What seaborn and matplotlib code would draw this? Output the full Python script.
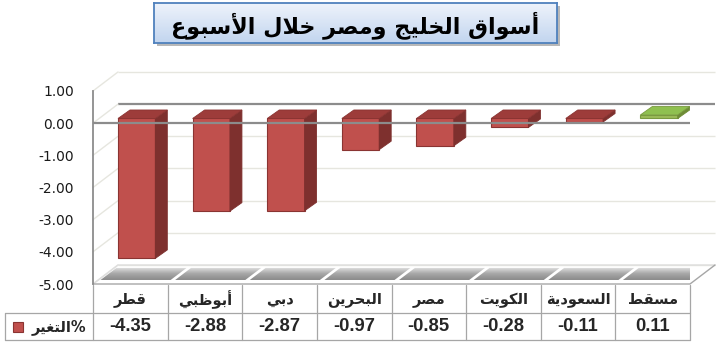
import numpy as np
import pandas as pd
import matplotlib
matplotlib.use("Agg")
import matplotlib.pyplot as plt
import seaborn as sns
from matplotlib import font_manager
from matplotlib.patches import Polygon, Rectangle
from matplotlib.colors import LinearSegmentedColormap

# ---------------- data ----------------
title = "أسواق الخليج ومصر خلال الأسبوع"
markets = ["قطر", "أبوظبي", "دبي", "البحرين", "مصر", "الكويت", "السعودية", "مسقط"]
changes = [-4.35, -2.88, -2.87, -0.97, -0.85, -0.28, -0.11, 0.11]
row_label = "التغير"
ytick_values = [1, 0, -1, -2, -3, -4, -5]
ytick_labels = ["1.00", "0.00", "-1.00", "-2.00", "-3.00", "-4.00", "-5.00"]

# ------------- minimal Arabic shaping (presentation forms + RTL) -------------
FORMS = {
    'ا': ('\ufe8d', '\ufe8e', None, None),
    'أ': ('\ufe83', '\ufe84', None, None),
    'ب': ('\ufe8f', '\ufe90', '\ufe91', '\ufe92'),
    'ة': ('\ufe93', '\ufe94', None, None),
    'ت': ('\ufe95', '\ufe96', '\ufe97', '\ufe98'),
    'ج': ('\ufe9d', '\ufe9e', '\ufe9f', '\ufea0'),
    'ح': ('\ufea1', '\ufea2', '\ufea3', '\ufea4'),
    'خ': ('\ufea5', '\ufea6', '\ufea7', '\ufea8'),
    'د': ('\ufea9', '\ufeaa', None, None),
    'ر': ('\ufead', '\ufeae', None, None),
    'س': ('\ufeb1', '\ufeb2', '\ufeb3', '\ufeb4'),
    'ص': ('\ufeb9', '\ufeba', '\ufebb', '\ufebc'),
    'ط': ('\ufec1', '\ufec2', '\ufec3', '\ufec4'),
    'ظ': ('\ufec5', '\ufec6', '\ufec7', '\ufec8'),
    'ع': ('\ufec9', '\ufeca', '\ufecb', '\ufecc'),
    'غ': ('\ufecd', '\ufece', '\ufecf', '\ufed0'),
    'ق': ('\ufed5', '\ufed6', '\ufed7', '\ufed8'),
    'ك': ('\ufed9', '\ufeda', '\ufedb', '\ufedc'),
    'ل': ('\ufedd', '\ufede', '\ufedf', '\ufee0'),
    'م': ('\ufee1', '\ufee2', '\ufee3', '\ufee4'),
    'ن': ('\ufee5', '\ufee6', '\ufee7', '\ufee8'),
    'و': ('\ufeed', '\ufeee', None, None),
    'ي': ('\ufef1', '\ufef2', '\ufef3', '\ufef4'),
    'لا': ('\ufefb', '\ufefc', None, None),
    'لأ': ('\ufef7', '\ufef8', None, None),
}


def shape(s):
    toks, i = [], 0
    while i < len(s):
        if s[i] == 'ل' and i + 1 < len(s) and s[i + 1] in 'اأ':
            toks.append(s[i:i + 2]); i += 2
        else:
            toks.append(s[i]); i += 1
    out = []
    for k, t in enumerate(toks):
        if t not in FORMS:
            out.append(t); continue
        f = FORMS[t]
        prev = toks[k - 1] if k > 0 else None
        nxt = toks[k + 1] if k + 1 < len(toks) else None
        jp = prev in FORMS and FORMS[prev][2] is not None
        jn = nxt in FORMS and f[2] is not None
        if jp and jn:
            g = f[3]
        elif jp:
            g = f[1]
        elif jn:
            g = f[2]
        else:
            g = f[0]
        out.append(g)
    return ''.join(reversed(out))


# ---------------- figure ----------------
sns.set_theme(style="white")
plt.rcParams['font.family'] = ['DejaVu Sans']
installed = {f.name for f in font_manager.fontManager.ttflist}
NUM_FONT = "Liberation Sans Narrow" if "Liberation Sans Narrow" in installed else "Liberation Sans"
NUM_SIZE = 15 if NUM_FONT == "Liberation Sans Narrow" else 13.2

W, H = 721, 348
fig = plt.figure(figsize=(W / 100, H / 100), dpi=100)
fig.patch.set_facecolor("white")

X0, CW, Y0, VU = 93.0, 74.625, 91.0, 32.17
ax = fig.add_axes([X0 / W, (H - 284) / H, 8 * CW / W, 6 * VU / H])


def X(px):
    return -0.5 + (px - X0) / CW


def Y(py):
    return 1 - (py - Y0) / VU


DX, DY = 25 / CW, 19 / VU           # back-wall depth offset
BDX, BDY = 12 / CW, 8.5 / VU         # bar depth offset
Z0 = 0.145                            # bar base level
SHIFT = 0.085

RED = dict(front="#c0504d", side="#7e302e", top="#9d3c3a", edge="#8a3432")
GRN = dict(front="#9bbb59", side="#6e8c36", top="#8fc050", edge="#7a9a40")

df = pd.DataFrame({"market": markets, "change": changes})
pal = {m: (GRN if v > 0 else RED)["front"] for m, v in zip(markets, changes)}
sns.barplot(data=df, x="market", y="change", hue="market", palette=pal,
            width=0.5, legend=False, ax=ax, saturation=1, zorder=3,
            linewidth=0.8, edgecolor=RED["edge"])

val_of = dict(zip(range(len(changes)), changes))
for p in list(ax.patches):
    w = p.get_width()
    idx = int(round(p.get_x() + w / 2))
    v = val_of[idx]
    c = GRN if v > 0 else RED
    p.set_x(p.get_x() + SHIFT)
    p.set_y(p.get_y() + Z0)
    p.set_edgecolor(c["edge"])
    xl, xr = p.get_x(), p.get_x() + w
    y1, y2 = p.get_y(), p.get_y() + p.get_height()
    ylo, yhi = min(y1, y2), max(y1, y2)
    ax.add_patch(Polygon([(xr, ylo), (xr + BDX, ylo + BDY), (xr + BDX, yhi + BDY), (xr, yhi)],
                         closed=True, facecolor=c["side"], edgecolor=c["side"], lw=0.6, zorder=3))
    ax.add_patch(Polygon([(xl, yhi), (xr, yhi), (xr + BDX, yhi + BDY), (xl + BDX, yhi + BDY)],
                         closed=True, facecolor=c["top"], edgecolor=c["edge"], lw=0.6, zorder=3))

# walls / gridlines
n = len(markets)
for v in ytick_values:
    col, lw = ("#8c8c8c", 1.6) if v == 0 else ("#e6e6df", 1.0)
    ax.plot([-0.5 + DX, n - 0.5 + DX], [v + DY, v + DY], color=col, lw=lw, zorder=1,
            clip_on=False, solid_capstyle="butt")
    ax.plot([-0.5, -0.5 + DX], [v, v + DY], color="#e6e6df", lw=1.0, zorder=1, clip_on=False)
# front zero line
ax.plot([-0.5, n - 0.5], [0, 0], color="#8c8c8c", lw=1.6, zorder=4, clip_on=False,
        solid_capstyle="butt")

# floor
ax.plot([-0.5, n - 0.5, n - 0.5 + DX], [-5, -5, -5 + DY], color="#a6a6a6", lw=1.0,
        zorder=2, clip_on=False)
ax.plot([-0.5, -0.5 + DX, n - 0.5 + DX], [-5, -5 + DY, -5 + DY], color="#dedede", lw=1.0,
        zorder=1.5, clip_on=False)
grad = np.linspace(0, 1, 64).reshape(-1, 1)
gcmap = LinearSegmentedColormap.from_list("g", ["#8a8a8a", "#a8a8a8", "#e4e4e4"])
vb, vt = -4.875, -4.50
ob, ot = DX * (5 + vb) / DY, DX * (5 + vt) / DY
for i in range(n):
    xl, xr = i - 0.5 + 0.03, i + 0.5 - 0.03
    poly = Polygon([(xl + ob, vb), (xr + ob, vb), (xr + ot, vt), (xl + ot, vt)], closed=True,
                   facecolor="none", edgecolor="none", transform=ax.transData)
    ax.add_patch(poly)
    im = ax.imshow(grad, cmap=gcmap, aspect="auto", origin="lower",
                   extent=[xl, xr + ot + 0.01, vb, vt], zorder=1.6)
    im.set_clip_path(poly)

ax.set_xlim(-0.5, n - 0.5)
ax.set_ylim(-5, 1)
ax.patch.set_visible(False)
ax.set_xticks([])
ax.set_xlabel("")
ax.set_ylabel("")
ax.set_yticks(ytick_values)
ax.set_yticklabels(ytick_labels)
ax.tick_params(axis="y", length=0, pad=13.5, labelsize=10, labelcolor="#1a1a1a")
for s in ["top", "right", "bottom"]:
    ax.spines[s].set_visible(False)
ax.spines["left"].set_color("#8c8c8c")
ax.spines["left"].set_linewidth(1.3)

# ---------------- data table ----------------
tcol = "#a6a6a6"
yh_top, y_mid, y_bot = Y(285), Y(313), Y(340)
for k in range(n + 1):
    ax.plot([k - 0.5, k - 0.5], [yh_top, y_bot], color=tcol, lw=0.9, clip_on=False, zorder=2)
ax.plot([X(5), n - 0.5], [y_mid, y_mid], color=tcol, lw=0.9, clip_on=False, zorder=2)
ax.plot([X(5), n - 0.5], [y_bot, y_bot], color=tcol, lw=0.9, clip_on=False, zorder=2)
ax.plot([X(5), X(5)], [y_mid, y_bot], color=tcol, lw=0.9, clip_on=False, zorder=2)

for i, (m, v) in enumerate(zip(markets, changes)):
    ax.text(i, Y(300), shape(m), ha="center", va="center", fontsize=10.5,
            fontweight="bold", family=["DejaVu Sans"], clip_on=False)
    ax.text(i, Y(327), f"{v:.2f}", ha="center", va="center", fontsize=NUM_SIZE,
            fontweight="bold", family=[NUM_FONT, "DejaVu Sans"], clip_on=False)

ax.text(X(86), Y(327), shape(row_label) + "%", ha="right", va="center", fontsize=10.5,
        fontweight="bold", family=["DejaVu Sans"], clip_on=False)
ax.add_patch(Rectangle((X(13), Y(332)), X(23) - X(13), Y(322) - Y(332), facecolor="#c0504d",
                       edgecolor="#8a3432", lw=0.8, clip_on=False, zorder=3))

# ---------------- title box ----------------
bx0, by0, bx1, by1 = 154, 3, 557, 43
fig.patches.append(Rectangle(((bx0 + 3) / W, 1 - (by1 + 3) / H), (bx1 - bx0) / W,
                             (by1 - by0) / H, transform=fig.transFigure,
                             facecolor="#b8b8b8", edgecolor="none", zorder=-1))
tax = fig.add_axes([bx0 / W, 1 - by1 / H, (bx1 - bx0) / W, (by1 - by0) / H])
tcmap = LinearSegmentedColormap.from_list("t", ["#c2d5ef", "#eef3fb"])
tax.imshow(np.linspace(0, 1, 64).reshape(-1, 1), cmap=tcmap, aspect="auto",
           origin="lower", extent=[0, 1, 0, 1])
tax.set_xlim(0, 1)
tax.set_ylim(0, 1)
tax.set_xticks([])
tax.set_yticks([])
for s in tax.spines.values():
    s.set_color("#4f81bd")
    s.set_linewidth(1.3)
tax.text(0.5, 0.45, shape(title), ha="center", va="center", fontsize=16,
         fontweight="bold", family=["DejaVu Sans"], color="black")

fig.savefig("out.png", dpi=100, facecolor="white")
